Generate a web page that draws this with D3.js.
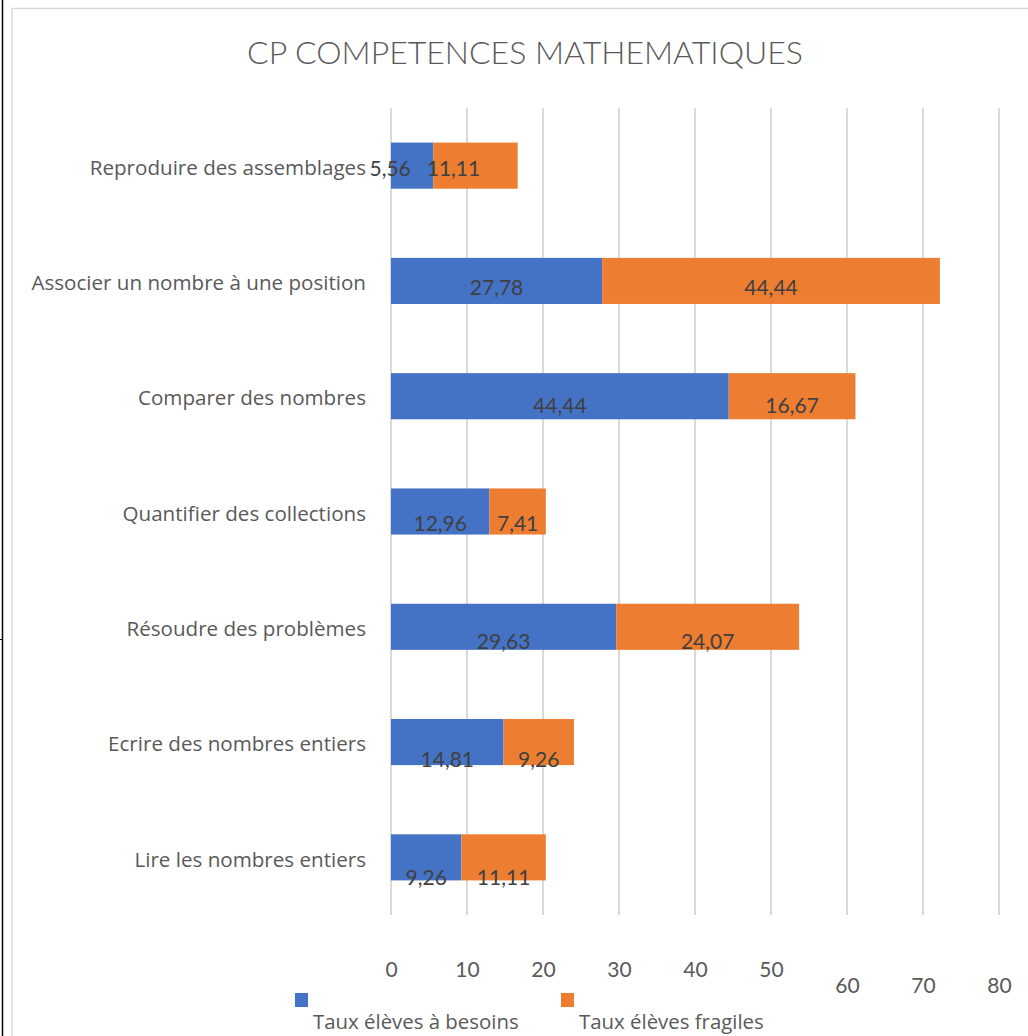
<!DOCTYPE html>
<html>
<head>
<meta charset="utf-8">
<script src="https://cdn.jsdelivr.net/npm/d3@7"></script>
<style>
  body { margin: 0; background: #fff; }
  text { font-family: "Open Sans", Lato, sans-serif; }
</style>
</head>
<body>
<div id="chart"></div>
<script>
// data
var categories = ["Reproduire des assemblages", "Associer un nombre à une position", "Comparer des nombres",
  "Quantifier des collections", "Résoudre des problèmes", "Ecrire des nombres entiers", "Lire les nombres entiers"];
var besoins = [5.56, 27.78, 44.44, 12.96, 29.63, 14.81, 9.26];
var fragiles = [11.11, 44.44, 16.67, 7.41, 24.07, 9.26, 11.11];
var seriesNames = ["Taux élèves à besoins", "Taux élèves fragiles"];
var tickValues = [0, 10, 20, 30, 40, 50, 60, 70, 80];

var colors = ["#4472C4", "#ED7D31"];

var W = 1028, H = 1036;
var svg = d3.select("#chart").append("svg")
  .attr("width", W).attr("height", H);

// page border and chart frame
svg.append("line").attr("x1", 2.5).attr("x2", 2.5).attr("y1", 0).attr("y2", H)
  .attr("stroke", "#000").attr("stroke-width", 1.5);
svg.append("line").attr("x1", 0).attr("x2", 3).attr("y1", 639.5).attr("y2", 639.5)
  .attr("stroke", "#000").attr("stroke-width", 1);
svg.append("rect").attr("x", 12).attr("y", 8.5).attr("width", W + 10).attr("height", H + 10)
  .attr("fill", "none").attr("stroke", "#d9d9d9").attr("stroke-width", 1.5);

// title
svg.append("text")
  .attr("x", 525).attr("y", 64)
  .attr("text-anchor", "middle")
  .style("font-size", "32px").style("font-weight", 300).style("fill", "#595959")
  .style("font-family", "Lato, sans-serif")
  .text("CP COMPETENCES MATHEMATIQUES");

// scales
var x = d3.scaleLinear().domain([0, 80]).range([391, 999]);
var y = d3.scaleBand().domain(categories).range([108, 915]).paddingInner(0.6).paddingOuter(0.3);
var yLabel = d3.scalePoint().domain(categories).range([169, 878]);

// gridlines
svg.append("g").selectAll("line")
  .data(tickValues)
  .enter().append("line")
  .attr("x1", function(d) { return x(d); })
  .attr("x2", function(d) { return x(d); })
  .attr("y1", 108).attr("y2", 915)
  .attr("stroke", "#d9d9d9").attr("stroke-width", 2);

// stacked data
var rows = categories.map(function(c, i) { return {cat: c, a: besoins[i], b: fragiles[i]}; });
var stack = d3.stack().keys(["a", "b"]);
var layers = stack(rows);

var g = svg.append("g").selectAll("g")
  .data(layers)
  .enter().append("g")
  .attr("fill", function(d, i) { return colors[i]; });

g.selectAll("rect")
  .data(function(d) { return d; })
  .enter().append("rect")
  .attr("x", function(d) { return x(d[0]); })
  .attr("width", function(d) { return x(d[1]) - x(d[0]); })
  .attr("y", function(d) { return y(d.data.cat); })
  .attr("height", y.bandwidth());

// data labels
var fmt = function(v) { return v.toFixed(2).replace(".", ","); };
g.selectAll("text")
  .data(function(d) { return d; })
  .enter().append("text")
  .attr("x", function(d, i) { return (x(d[0]) + x(d[1])) / 2 + (i === 0 ? -22 : 0); })
  .attr("y", function(d) { return yLabel(d.data.cat); })
  .attr("dy", "0.35em")
  .attr("text-anchor", "middle")
  .style("font-size", "21px").style("fill", "#404040")
  .style("font-family", "Lato, sans-serif")
  .text(function(d) { return fmt(d[1] - d[0]); });

// category labels
svg.append("g").selectAll("text")
  .data(categories)
  .enter().append("text")
  .attr("x", 366)
  .attr("y", function(d) { return y(d) + y.bandwidth() / 2 + 2; })
  .attr("dy", "0.35em")
  .attr("text-anchor", "end")
  .style("font-size", "20.6px").style("fill", "#595959")
  .text(function(d) { return d; });

// x axis
var axis = svg.append("g")
  .attr("transform", "translate(0,915)")
  .call(d3.axisBottom(x).tickValues(tickValues).tickSize(0).tickFormat(d3.format("d")));
axis.select(".domain").remove();
axis.selectAll("text")
  .attr("y", function(d) { return d > 50 ? 78 : 62; })
  .attr("dy", 0)
  .style("font-size", "21px").style("fill", "#595959")
  .style("font-family", "Lato, sans-serif");

// legend
var leg = svg.append("g").selectAll("g")
  .data(seriesNames)
  .enter().append("g")
  .attr("transform", function(d, i) { return "translate(" + (i === 0 ? 295 : 561) + ",0)"; });
leg.append("rect")
  .attr("x", 0).attr("y", 993).attr("width", 13).attr("height", 14)
  .attr("fill", function(d, i) { return colors[i]; });
leg.append("text")
  .attr("x", 18).attr("y", 1029)
  .style("font-size", "20.4px").style("fill", "#595959")
  .text(function(d) { return d; });
</script>
</body>
</html>
